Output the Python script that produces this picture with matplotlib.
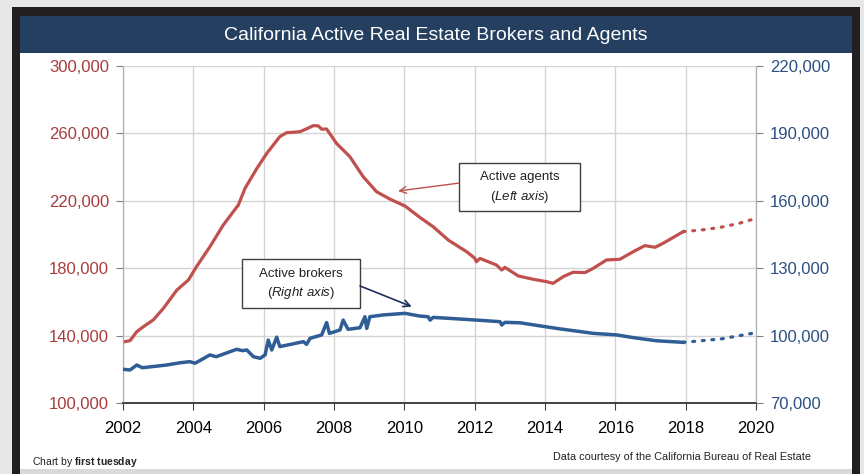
import numpy as np
import matplotlib
matplotlib.use("Agg")
import matplotlib.pyplot as plt
from matplotlib.patches import Rectangle
from matplotlib.ticker import FuncFormatter

plt.rcParams['font.family'] = ['Liberation Sans', 'DejaVu Sans']
plt.rcParams['mathtext.fontset'] = 'custom'
plt.rcParams['mathtext.rm'] = 'Liberation Sans'
plt.rcParams['mathtext.it'] = 'Liberation Sans:italic'
plt.rcParams['mathtext.bf'] = 'Liberation Sans:bold'

# active agents (left axis)
agent_years = [2002.00, 2002.20, 2002.39, 2002.58, 2002.86, 2003.15, 2003.53, 2003.86,
               2004.09, 2004.47, 2004.85, 2005.28, 2005.47, 2005.80, 2006.09, 2006.46,
               2006.65, 2007.03, 2007.25, 2007.41, 2007.55, 2007.65, 2007.79, 2008.07,
               2008.45, 2008.83, 2009.21, 2009.59, 2010.02, 2010.44, 2010.82, 2011.25,
               2011.77, 2012.00, 2012.05, 2012.15, 2012.62, 2012.77, 2012.86, 2013.24,
               2013.67, 2014.05, 2014.23, 2014.52, 2014.80, 2015.14, 2015.37, 2015.75,
               2016.13, 2016.51, 2016.84, 2017.13, 2017.36, 2017.65, 2017.93]
agents = [136200, 137000, 142300, 145300, 149300, 156200, 167000, 173000,
          180900, 192700, 205600, 217500, 227400, 239000, 248200, 258100,
          260400, 261000, 263000, 264600, 264500, 262500, 262600, 254100,
          246200, 234300, 225400, 221000, 216900, 210200, 204600, 196700,
          189800, 186000, 183800, 185800, 181900, 178900, 180500, 175400,
          173400, 172000, 171000, 175000, 177600, 177400, 179900, 184900,
          185300, 189800, 193400, 192400, 194800, 198300, 201700]
agent_proj_years = [2017.93, 2018.5, 2019.0, 2019.5, 2020.0]
agent_proj = [201700, 202800, 204300, 206500, 209600]

# active brokers (right axis)
broker_years = [2002.00, 2002.20, 2002.39, 2002.55, 2003.24, 2003.62, 2003.90, 2004.05,
                2004.47, 2004.65, 2005.23, 2005.40, 2005.52, 2005.71, 2005.90, 2006.04,
                2006.13, 2006.23, 2006.37, 2006.46, 2007.13, 2007.22, 2007.32, 2007.65,
                2007.79, 2007.87, 2008.17, 2008.26, 2008.40, 2008.74, 2008.88, 2008.93,
                2009.02, 2009.40, 2010.02, 2010.44, 2010.68, 2010.73, 2010.82, 2011.25,
                2011.77, 2012.72, 2012.77, 2012.86, 2013.29, 2014.33, 2015.37, 2016.04,
                2016.51, 2017.17, 2017.93]
brokers = [85000, 84700, 86900, 85700, 86900, 87900, 88400, 87700,
           91400, 90600, 93900, 93300, 93600, 90600, 89900, 91400,
           98000, 93600, 99300, 95100, 97300, 96100, 98800, 100300,
           105800, 101000, 102500, 106900, 102800, 103500, 108400, 103200,
           108400, 109200, 109900, 108700, 108400, 106900, 108100, 107700,
           107200, 106200, 104700, 105900, 105700, 103200, 101000, 100300,
           99100, 97700, 97000]
broker_proj_years = [2017.93, 2019.0, 2020.0]
broker_proj = [97000, 98500, 101300]

left_ticks = [100000, 140000, 180000, 220000, 260000, 300000]
right_ticks = [70000, 100000, 130000, 160000, 190000, 220000]
year_ticks = [2002, 2004, 2006, 2008, 2010, 2012, 2014, 2016, 2018, 2020]

red = "#c0504d"
blue = "#2f5d95"
red_txt = "#a83c3c"
blue_txt = "#2b4f80"
navy = "#243f60"

W, H = 864, 474
fig = plt.figure(figsize=(W / 100, H / 100), dpi=100, facecolor="#e6e7e9")

def px(x, y, w, h, **kw):
    # rectangle in pixel coordinates measured from top-left
    fig.patches.append(Rectangle((x / W, 1 - (y + h) / H), w / W, h / H,
                                 transform=fig.transFigure, zorder=-10, **kw))

px(12, 7, 848, 470, facecolor="#231f20", edgecolor="none")
px(20, 469, 832, 8, facecolor="#d9d9d9", edgecolor="none")
px(20, 16, 832, 453, facecolor="white", edgecolor="none")
px(20, 16, 832, 37, facecolor=navy, edgecolor="none")

fig.text(436 / W, 1 - 36 / H, "California Active Real Estate Brokers and Agents",
         color="white", fontsize=14, ha="center", va="center")
fig.text(32 / W, 1 - 462 / H, "Chart by $\\mathbf{first\\ tuesday}$", fontsize=7.5,
         ha="left", va="center", color="#222222")
fig.text(811 / W, 1 - 457 / H, "Data courtesy of the California Bureau of Real Estate",
         fontsize=7.8, ha="right", va="center", color="#222222")

ax = fig.add_axes([123 / W, 1 - 403 / H, 633 / W, 337 / H])
ax.set_facecolor("none")
ax2 = ax.twinx()

ax.set_xlim(2002, 2020)
ax.set_ylim(100000, 300000)
ax2.set_ylim(70000, 220000)
ax.set_xticks(year_ticks)
ax.set_yticks(left_ticks)
ax2.set_yticks(right_ticks)
fmt = FuncFormatter(lambda v, p: f"{int(v):,}")
ax.yaxis.set_major_formatter(fmt)
ax2.yaxis.set_major_formatter(fmt)

ax.grid(True, color="#d4d4d4", linewidth=1)
ax.set_axisbelow(True)
for a in (ax, ax2):
    a.spines["top"].set_visible(False)
    a.spines["left"].set_color("#b0b0b0")
    a.spines["right"].set_color("#b0b0b0")
    a.spines["bottom"].set_color("#404040")
    a.spines["bottom"].set_linewidth(1.2)

ax.tick_params(axis="y", colors="#808080", labelcolor=red_txt, labelsize=12, length=5, pad=5)
ax2.tick_params(axis="y", colors="#808080", labelcolor=blue_txt, labelsize=12, length=5, pad=5)
ax.tick_params(axis="x", colors="#404040", labelcolor="black", labelsize=12, length=5, pad=8)

ax.plot(agent_years, agents, color=red, linewidth=2.3, solid_joinstyle="round", zorder=3)
ax.plot(agent_proj_years, agent_proj, color=red, linewidth=2.3, linestyle=(0, (0.6, 2.4)),
        dash_capstyle="round", zorder=3)
ax2.plot(broker_years, brokers, color=blue, linewidth=2.5, solid_joinstyle="round", zorder=3)
ax2.plot(broker_proj_years, broker_proj, color=blue, linewidth=2.3, linestyle=(0, (0.6, 2.4)),
         dash_capstyle="round", zorder=3)

# annotation boxes
ax2.add_patch(Rectangle((2011.55, 213900), 3.44, 28500, transform=ax.transData,
                        facecolor="white", edgecolor="#404040", linewidth=1, zorder=5))
ax2.text(2013.27, 234000, "Active agents", transform=ax.transData, fontsize=9.5,
         ha="center", va="center", color="#222222", zorder=6)
ax2.text(2013.27, 222300, "($\\mathit{Left\\ axis}$)", transform=ax.transData, fontsize=9.5,
         ha="center", va="center", color="#222222", zorder=6)
ax2.annotate("", xy=(2009.82, 225800), xytext=(2011.55, 230500),
             xycoords=ax.transData, textcoords=ax.transData,
             arrowprops=dict(arrowstyle="->", color=red, linewidth=1,
                             shrinkA=0, shrinkB=0, mutation_scale=12), zorder=6)

ax2.add_patch(Rectangle((2005.37, 156200), 3.37, 29000, transform=ax.transData,
                        facecolor="white", edgecolor="#404040", linewidth=1, zorder=5))
ax2.text(2007.05, 176600, "Active brokers", transform=ax.transData, fontsize=9.5,
         ha="center", va="center", color="#222222", zorder=6)
ax2.text(2007.05, 165000, "($\\mathit{Right\\ axis}$)", transform=ax.transData, fontsize=9.5,
         ha="center", va="center", color="#222222", zorder=6)
ax2.annotate("", xy=(2010.21, 112900), xytext=(2008.74, 122100),
             arrowprops=dict(arrowstyle="->", color="#1f2d5a", linewidth=1.2,
                             shrinkA=0, shrinkB=0, mutation_scale=12), zorder=6)

fig.savefig("out.png", dpi=100, facecolor=fig.get_facecolor())
